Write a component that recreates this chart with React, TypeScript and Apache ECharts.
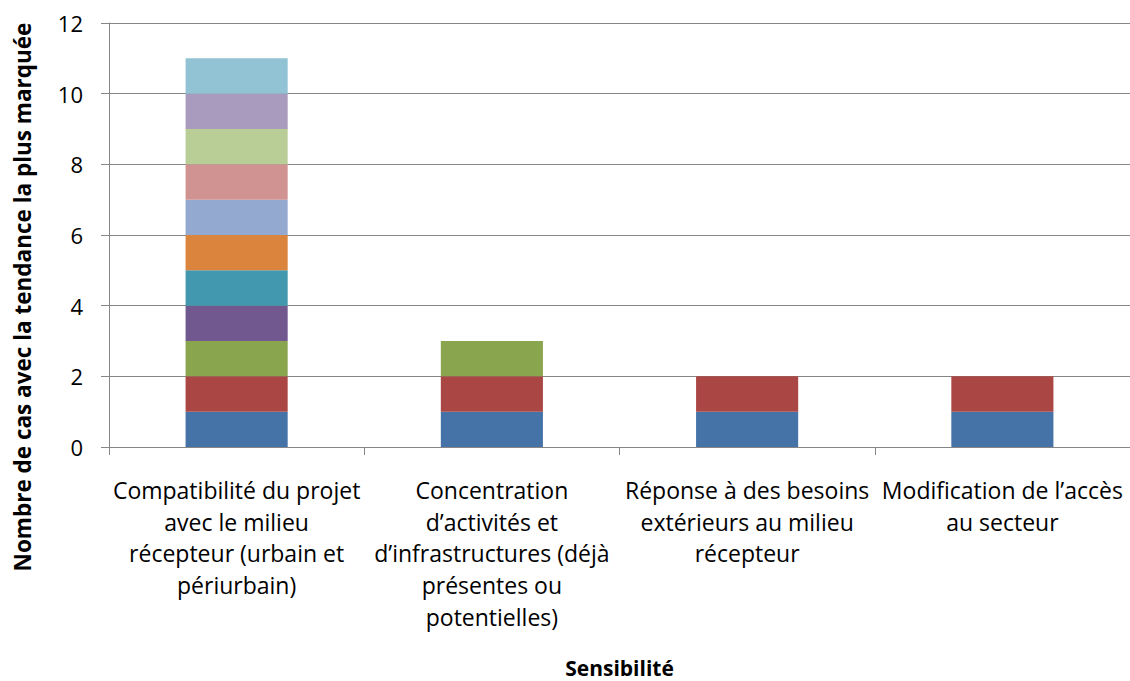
import React, { useEffect, useRef } from "react";
import * as echarts from "echarts";

const categories = [
  "Compatibilité du projet\navec le milieu\nrécepteur (urbain et\npériurbain)",
  "Concentration\nd’activités et\nd’infrastructures (déjà\nprésentes ou\npotentielles)",
  "Réponse à des besoins\nextérieurs au milieu\nrécepteur",
  "Modification de l’accès\nau secteur",
];

const seriesValues: (number | null)[][] = [
  [1, 1, 1, 1],
  [1, 1, 1, 1],
  [1, 1, null, null],
  [1, null, null, null],
  [1, null, null, null],
  [1, null, null, null],
  [1, null, null, null],
  [1, null, null, null],
  [1, null, null, null],
  [1, null, null, null],
  [1, null, null, null],
];

const colors = [
  "#4572A7", "#AA4643", "#89A54E", "#71588F", "#4198AF", "#DB843D",
  "#93A9CF", "#D19392", "#B9CD96", "#A99BBD", "#91C3D5",
];

const yTicks = [0, 2, 4, 6, 8, 10, 12];
const yTitle = "Nombre de cas avec la tendance la plus marquée";
const xTitle = "Sensibilité";

export default function App() {
  const ref = useRef<HTMLDivElement>(null);
  useEffect(() => {
    document.body.style.margin = "0";
    const chart = echarts.init(ref.current!, null, { renderer: "svg" });
    const font = "'Open Sans', sans-serif";
    chart.setOption({
      animation: false,
      backgroundColor: "#ffffff",
      grid: { left: 109, right: 0, top: 23, bottom: 234, outerBoundsMode: "none", containLabel: false },
      graphic: [
        {
          type: "text",
          x: 22,
          y: 297,
          rotation: Math.PI / 2,
          style: {
            text: yTitle,
            fontFamily: font,
            fontSize: 22.5,
            fontWeight: "bold",
            fill: "#000",
            align: "center",
            verticalAlign: "middle",
          },
        },
      ],
      xAxis: {
        type: "category",
        data: categories,
        name: xTitle,
        nameLocation: "middle",
        nameGap: 210,
        nameTextStyle: { fontFamily: font, fontSize: 21, fontWeight: "bold", color: "#000" },
        axisLine: { lineStyle: { color: "#868686" } },
        axisTick: { show: true, length: 8, lineStyle: { color: "#868686" } },
        axisLabel: {
          interval: 0,
          margin: 27,
          fontFamily: font,
          fontSize: 23,
          lineHeight: 31.7,
          color: "#000",
          align: "center",
        },
      },
      yAxis: {
        type: "value",
        min: yTicks[0],
        max: yTicks[yTicks.length - 1],
        interval: 2,
        axisLine: { show: true, lineStyle: { color: "#868686" } },
        axisTick: { show: true, length: 8, lineStyle: { color: "#868686" } },
        axisLabel: { fontFamily: font, fontSize: 22, color: "#000", margin: 26 },
        splitLine: { lineStyle: { color: "#868686" } },
      },
      series: seriesValues.map((d, i) => ({
        type: "bar",
        stack: "total",
        data: d,
        barWidth: "40%",
        itemStyle: { color: colors[i] },
      })),
    });
    return () => chart.dispose();
  }, []);
  return <div ref={ref} style={{ width: 1130, height: 681 }} />;
}
